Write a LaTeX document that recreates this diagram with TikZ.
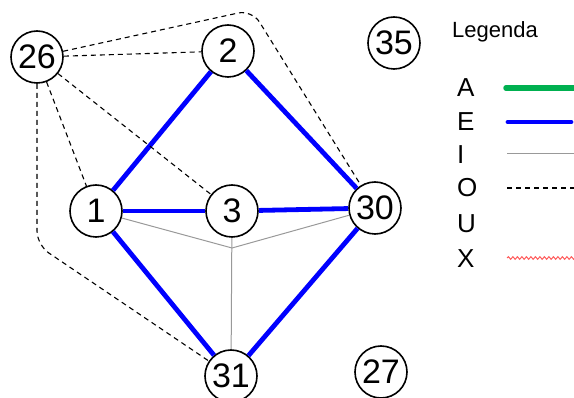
\documentclass[tikz,border=0pt]{standalone}
\usepackage{fontspec}
\setmainfont{Liberation Sans}
\usetikzlibrary{decorations.pathmorphing}
\definecolor{lgreen}{RGB}{0,176,80}
\definecolor{lred}{RGB}{255,90,90}
\tikzset{
  vnode/.style={circle, draw=black, line width=1.6pt, fill=white, minimum size=52pt, inner sep=0pt, font=\fontsize{34}{34}\selectfont},
  eE/.style={draw=blue, line width=4.8pt},
  eI/.style={draw=black!40, line width=1pt},
  eO/.style={draw=black, line width=1.1pt, dash pattern=on 5pt off 4pt},
  eA/.style={draw=lgreen, line width=5.5pt, line cap=round},
  eX/.style={draw=lred, line width=1pt, decorate, decoration={snake, amplitude=1.3pt, segment length=4.5pt}},
  legtxt/.style={anchor=west, inner sep=0pt, font=\fontsize{26}{26}\selectfont},
}
\begin{document}
\begin{tikzpicture}[x=1pt,y=-1pt]
\useasboundingbox (0,0) rectangle (574,398);
\clip (0,0) rectangle (574,398);
% nodes
\node[vnode] (n26) at (37,57) {26};
\node[vnode] (n2) at (228,51) {2};
\node[vnode] (n35) at (394,43) {35};
\node[vnode] (n1) at (96,211) {1};
\node[vnode] (n3) at (232,211) {3};
\node[vnode] (n30) at (375,208) {30};
\node[vnode] (n31) at (231,376) {31};
\node[vnode] (n27) at (381,372) {27};
\coordinate (m) at (232,248);
\coordinate (c1) at (252,10);
\coordinate (c2) at (37,245);
% edges E
\draw[eE] (n1) -- (n2);
\draw[eE] (n2) -- (n30);
\draw[eE] (n1) -- (n3);
\draw[eE] (n3) -- (n30);
\draw[eE] (n1) -- (n31);
\draw[eE] (n30) -- (n31);
% edges I
\draw[eI] (n1) -- (m) -- (n30);
\draw[eI] (n3) -- (n31);
% edges O
\draw[eO] (n26) -- (n2);
\draw[eO] (n26) -- (n1);
\draw[eO] (n26) -- (n3);
\draw[eO, rounded corners=14pt] (n26) -- (c1) -- (n30);
\draw[eO, rounded corners=14pt] (n26) -- (c2) -- (n31);
% legend
\node[anchor=west, inner sep=0pt, font=\fontsize{22}{22}\selectfont] (leg) at (452,32) {Legenda};
\node[legtxt] (lA) at (457,88) {A};
\node[legtxt] (lE) at (457,122) {E};
\node[legtxt] (lI) at (457,155) {I};
\node[legtxt] (lO) at (457,188) {O};
\node[legtxt] (lU) at (457,224) {U};
\node[legtxt] (lX) at (457,259) {X};
\coordinate (aA) at (506,88); \coordinate (bA) at (580,88);
\coordinate (aE) at (508,122); \coordinate (bE) at (571,122);
\coordinate (aI) at (507,154); \coordinate (bI) at (580,154);
\coordinate (aO) at (507,188); \coordinate (bO) at (580,188);
\coordinate (aX) at (507,258); \coordinate (bX) at (580,258);
\draw[eA] (aA) -- (bA);
\draw[eE, line cap=round] (aE) -- (bE);
\draw[eI] (aI) -- (bI);
\draw[eO] (aO) -- (bO);
\draw[eX] (aX) -- (bX);
\end{tikzpicture}
\end{document}
